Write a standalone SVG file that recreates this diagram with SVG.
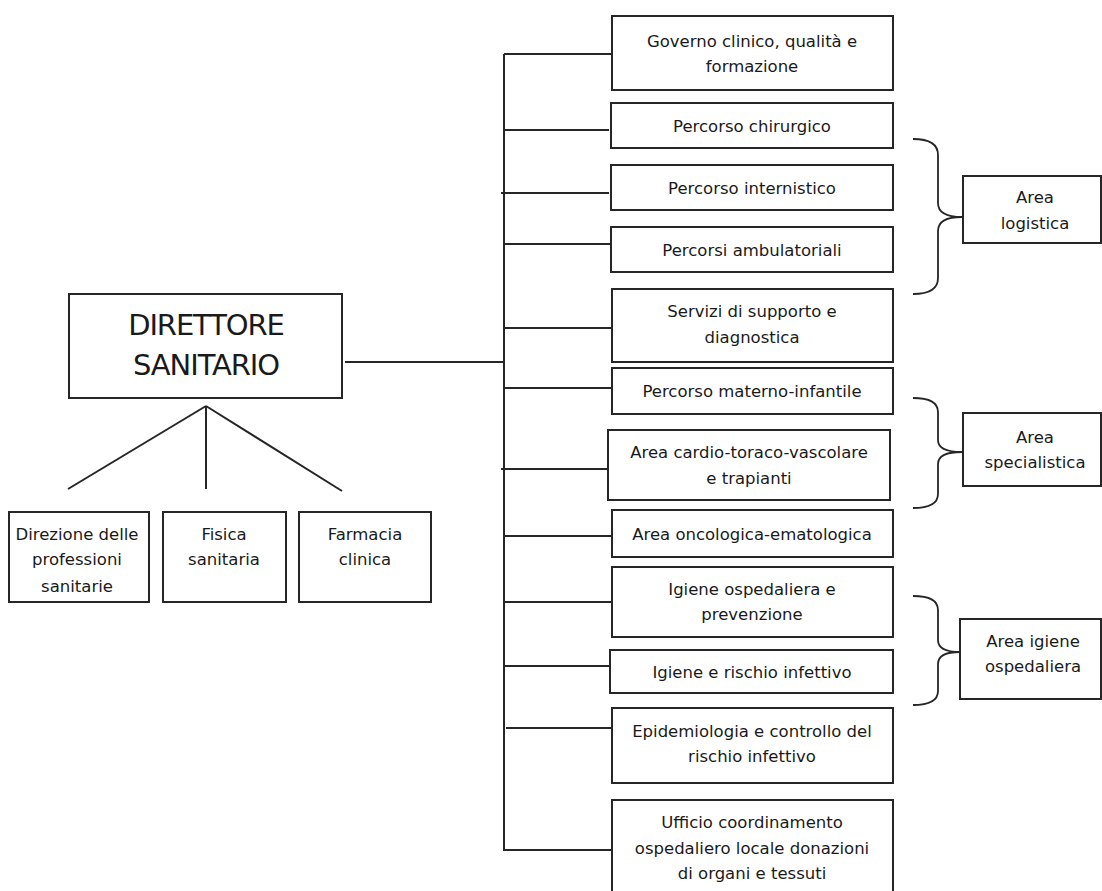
<svg xmlns="http://www.w3.org/2000/svg" width="1102" height="891" viewBox="0 0 1102 891">
<style>
.box{fill:#fff;stroke:#262626;stroke-width:2}
.ln{fill:none;stroke:#262626;stroke-width:2}
.br{fill:none;stroke:#262626;stroke-width:1.8}
text{font-family:"DejaVu Sans",Verdana,sans-serif;font-size:16.5px;fill:#1a1a1a;text-anchor:middle}
.big{font-size:29px;letter-spacing:-1.1px}
</style>
<rect width="1102" height="891" fill="#fff"/>
<g id="connectors">
<line class="ln" x1="504" y1="54" x2="504" y2="850"/>
<line class="ln" x1="345" y1="362" x2="504" y2="362"/>
<line class="ln" x1="504" y1="54" x2="612" y2="54"/>
<line class="ln" x1="504" y1="130" x2="609" y2="130"/>
<line class="ln" x1="501" y1="193" x2="609" y2="193"/>
<line class="ln" x1="504" y1="244" x2="611" y2="244"/>
<line class="ln" x1="504" y1="328" x2="612" y2="328"/>
<line class="ln" x1="504" y1="388" x2="612" y2="388"/>
<line class="ln" x1="501" y1="469" x2="608" y2="469"/>
<line class="ln" x1="504" y1="536" x2="612" y2="536"/>
<line class="ln" x1="504" y1="602" x2="612" y2="602"/>
<line class="ln" x1="504" y1="666" x2="610" y2="666"/>
<line class="ln" x1="506" y1="728" x2="612" y2="728"/>
<line class="ln" x1="503" y1="850" x2="612" y2="850"/>
<line class="ln" x1="206" y1="406" x2="68" y2="489"/>
<line class="ln" x1="206" y1="406" x2="206" y2="489"/>
<line class="ln" x1="206" y1="406" x2="342" y2="491"/>
<path class="br" d="M913,139 Q938,139 938,155 L938,203 Q938,217 962,217 Q938,217 938,231 L938,278 Q938,294 913,294"/>
<path class="br" d="M913,398 Q938,398 938,412 L938,440 Q938,452 962,452 Q938,452 938,464 L938,494 Q938,508 913,508"/>
<path class="br" d="M913,596 Q938,596 938,610 L938,640 Q938,652 960,652 Q938,652 938,664 L938,691 Q938,705 913,705"/>
</g>
<g id="director">
<rect class="box" x="69" y="294" width="273" height="104"/>
<text class="big" x="206" y="335">DIRETTORE</text>
<text class="big" x="206" y="375">SANITARIO</text>
</g>
<g id="direzione-professioni">
<rect class="box" x="9" y="512" width="140" height="90"/>
<text x="77" y="540">Direzione delle</text>
<text x="77" y="565">professioni</text>
<text x="77" y="592">sanitarie</text>
</g>
<g id="fisica">
<rect class="box" x="163" y="512" width="123" height="90"/>
<text x="224" y="540">Fisica</text>
<text x="224" y="565">sanitaria</text>
</g>
<g id="farmacia">
<rect class="box" x="299" y="512" width="132" height="90"/>
<text x="365" y="540">Farmacia</text>
<text x="365" y="565">clinica</text>
</g>
<g id="governo">
<rect class="box" x="612" y="16" width="281" height="74"/>
<text x="752" y="47">Governo clinico, qualità e</text>
<text x="752" y="72">formazione</text>
</g>
<g id="chirurgico">
<rect class="box" x="611" y="103" width="282" height="45"/>
<text x="752" y="132">Percorso chirurgico</text>
</g>
<g id="internistico">
<rect class="box" x="611" y="165" width="282" height="45"/>
<text x="752" y="194">Percorso internistico</text>
</g>
<g id="ambulatoriali">
<rect class="box" x="611" y="227" width="282" height="45"/>
<text x="752" y="256">Percorsi ambulatoriali</text>
</g>
<g id="servizi">
<rect class="box" x="612" y="289" width="281" height="73"/>
<text x="752" y="317">Servizi di supporto e</text>
<text x="752" y="343">diagnostica</text>
</g>
<g id="materno">
<rect class="box" x="612" y="368" width="281" height="46"/>
<text x="752" y="397">Percorso materno-infantile</text>
</g>
<g id="cardio">
<rect class="box" x="608" y="430" width="282" height="70"/>
<text x="749" y="458">Area cardio-toraco-vascolare</text>
<text x="749" y="484">e trapianti</text>
</g>
<g id="oncologica">
<rect class="box" x="612" y="510" width="281" height="47"/>
<text x="752" y="540">Area oncologica-ematologica</text>
</g>
<g id="igiene-ospedaliera">
<rect class="box" x="612" y="567" width="281" height="70"/>
<text x="752" y="595">Igiene ospedaliera e</text>
<text x="752" y="620">prevenzione</text>
</g>
<g id="igiene-rischio">
<rect class="box" x="610" y="650" width="283" height="43"/>
<text x="752" y="678">Igiene e rischio infettivo</text>
</g>
<g id="epidemiologia">
<rect class="box" x="612" y="708" width="281" height="75"/>
<text x="752" y="737">Epidemiologia e controllo del</text>
<text x="752" y="762">rischio infettivo</text>
</g>
<g id="ufficio">
<rect class="box" x="612" y="800" width="281" height="100"/>
<text x="752" y="828">Ufficio coordinamento</text>
<text x="752" y="854">ospedaliero locale donazioni</text>
<text x="752" y="879">di organi e tessuti</text>
</g>
<g id="area-logistica">
<rect class="box" x="963" y="176" width="138" height="67"/>
<text x="1035" y="203">Area</text>
<text x="1035" y="229">logistica</text>
</g>
<g id="area-specialistica">
<rect class="box" x="963" y="413" width="138" height="73"/>
<text x="1035" y="443">Area</text>
<text x="1035" y="468">specialistica</text>
</g>
<g id="area-igiene">
<rect class="box" x="960" y="619" width="141" height="80"/>
<text x="1033" y="647">Area igiene</text>
<text x="1033" y="672">ospedaliera</text>
</g>
</svg>
